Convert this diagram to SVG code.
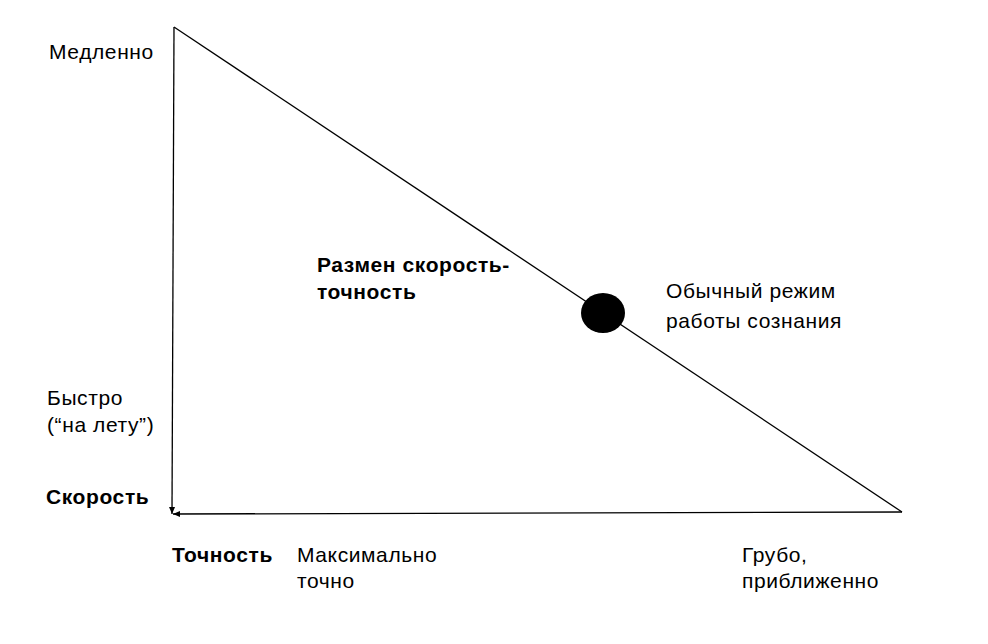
<svg xmlns="http://www.w3.org/2000/svg" width="988" height="644" viewBox="0 0 988 644">
<style>
text{font-family:"Liberation Sans",Arial,sans-serif;font-size:21px;letter-spacing:0.6px;fill:#000}
.b{font-weight:bold}
.ln{stroke:#000;stroke-width:1.3;fill:none}
</style>
<defs>
<marker id="ah" markerWidth="8" markerHeight="8" refX="7" refY="4" orient="auto" markerUnits="userSpaceOnUse">
<path d="M0,1 L7,4 L0,7 Z" fill="#000"/>
</marker>
</defs>
<rect width="988" height="644" fill="#fff"/>
<g id="connectors">
<line class="ln" x1="174" y1="27" x2="172" y2="514" marker-end="url(#ah)"/>
<line class="ln" x1="902" y1="512" x2="173" y2="514" marker-end="url(#ah)"/>
<line class="ln" x1="174" y1="27" x2="902" y2="512"/>
</g>
<g id="point"><ellipse cx="603" cy="313" rx="22" ry="20" fill="#000"/></g>
<g id="slow"><text x="49" y="59">Медленно</text></g>
<g id="fast"><text x="47" y="405">Быстро</text><text x="47" y="432">(“на лету”)</text></g>
<g id="speed"><text class="b" x="46" y="504">Скорость</text></g>
<g id="accuracy"><text class="b" x="172" y="562">Точность</text></g>
<g id="max"><text x="297" y="562">Максимально</text><text x="297" y="588">точно</text></g>
<g id="rough"><text x="742" y="562">Грубо,</text><text x="742" y="588">приближенно</text></g>
<g id="tradeoff"><text class="b" x="317" y="272">Размен скорость-</text><text class="b" x="317" y="299">точность</text></g>
<g id="normal"><text x="666" y="298">Обычный режим</text><text x="666" y="328">работы сознания</text></g>
</svg>
